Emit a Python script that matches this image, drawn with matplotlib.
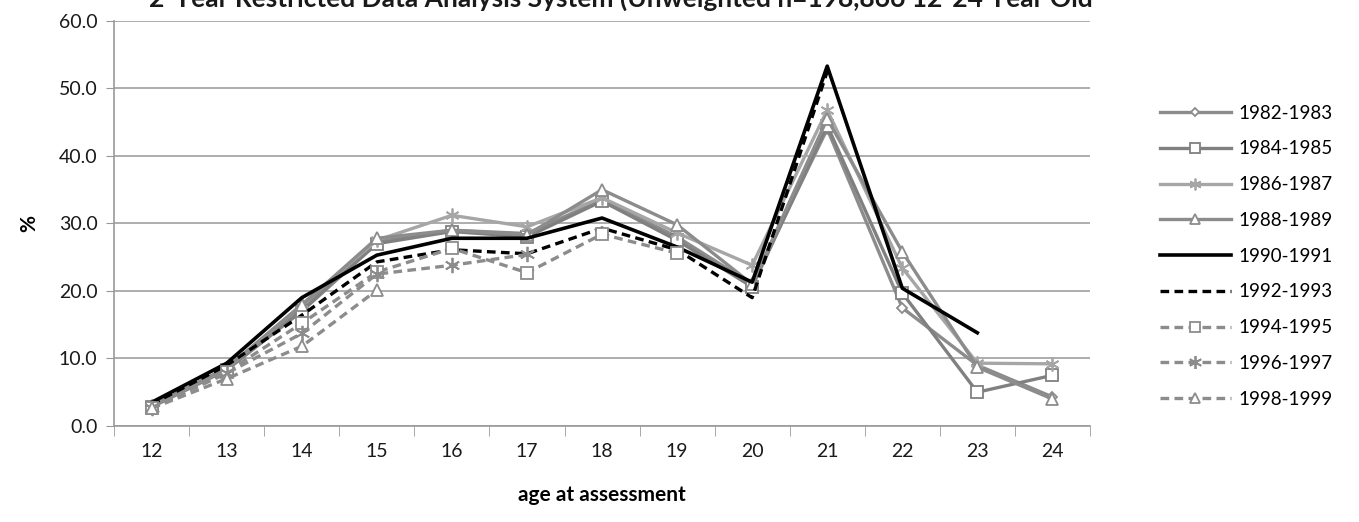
import matplotlib.pyplot as plt

plt.rcParams['font.family'] = ['Lato', 'DejaVu Sans']

ages = [12, 13, 14, 15, 16, 17, 18, 19, 20, 21, 22, 23, 24]

s_1982 = [3.0, 8.5, 17.5, 27.3, 29.0, 28.5, 33.5, 28.0, 21.0, 44.0, 17.5, 9.0, 4.3]
s_1984 = [2.8, 8.3, 17.0, 27.0, 28.8, 28.0, 33.3, 27.5, 20.6, 44.5, 19.7, 5.0, 7.5]
s_1986 = [3.0, 8.5, 18.0, 27.5, 31.2, 29.5, 33.8, 28.6, 23.8, 46.8, 23.4, 9.3, 9.2]
s_1988 = [3.0, 8.6, 17.9, 27.8, 29.0, 28.3, 35.0, 29.8, 21.0, 45.5, 25.8, 8.7, 4.0]
s_1990 = [3.5, 9.3, 19.0, 25.3, 27.8, 27.8, 30.8, 26.5, 21.3, 53.3, 20.4, 13.8]
s_1992 = [3.2, 9.0, 16.4, 24.3, 26.1, 25.5, 29.3, 26.1, 19.0, 52.5]
s_1994 = [2.7, 8.0, 15.2, 22.8, 26.3, 22.7, 28.4, 25.6]
s_1996 = [2.7, 7.8, 13.7, 22.5, 23.8, 25.4]
s_1998 = [2.6, 7.0, 11.8, 20.1]

series = [
    ('1982-1983', s_1982, '#8c8c8c', '-', 'D', 5, 2.4),
    ('1984-1985', s_1984, '#808080', '-', 's', 8, 2.4),
    ('1986-1987', s_1986, '#a6a6a6', '-', (6, 2, 0), 10, 2.4),
    ('1988-1989', s_1988, '#8c8c8c', '-', '^', 8, 2.4),
    ('1990-1991', s_1990, '#000000', '-', None, 0, 2.6),
    ('1992-1993', s_1992, '#000000', '--', None, 0, 2.4),
    ('1994-1995', s_1994, '#8c8c8c', '--', 's', 9, 2.4),
    ('1996-1997', s_1996, '#8c8c8c', '--', (6, 2, 0), 11, 2.4),
    ('1998-1999', s_1998, '#8c8c8c', '--', '^', 9, 2.4),
]

fig = plt.figure(figsize=(13.59, 5.22), dpi=100)
ax = fig.add_axes([0.084, 0.184, 0.718, 0.776])

for label, vals, col, ls, mk, ms, lw in series:
    x = ages[:len(vals)]
    line, = ax.plot(x, vals, color=col, linestyle=ls, linewidth=lw,
                    marker=mk, markersize=ms, markerfacecolor='white',
                    markeredgecolor=col, markeredgewidth=1.3, label=label)
    if ls == '--':
        line.set_dashes((2.6, 1.6))

ax.set_xlim(11.5, 24.5)
ax.set_ylim(0, 60)
ax.set_yticks([0, 10, 20, 30, 40, 50, 60])
ax.set_yticklabels(['%.1f' % v for v in [0, 10, 20, 30, 40, 50, 60]], fontsize=14, color='#1a1a1a')
ax.set_xticks(ages)
ax.set_xticklabels([str(a) for a in ages], fontsize=14, color='#1a1a1a')
ax.set_xticks([a + 0.5 for a in [11] + ages], minor=True)
ax.tick_params(axis='x', which='major', length=0, pad=12)
ax.tick_params(axis='x', which='minor', length=7, color='#999999', direction='out')
ax.tick_params(axis='y', length=6, color='#999999', direction='out', pad=6)

ax.grid(axis='y', color='#a0a0a0', linewidth=1.2)
ax.set_axisbelow(True)
for side in ['top', 'right']:
    ax.spines[side].set_visible(False)
for side in ['left', 'bottom']:
    ax.spines[side].set_color('#999999')
    ax.spines[side].set_linewidth(1.2)

ax.set_ylabel('%', fontsize=15, fontweight='bold', labelpad=14)
ax.set_xlabel('age at assessment', fontsize=15, fontweight='bold', labelpad=18)

# title sits partly above the figure edge, as in the source image
fig.text(0.457, 1 - 7 / 522, '2-Year Restricted Data Analysis System (Unweighted n=198,866 12-24 Year Old',
         ha='center', va='baseline', fontsize=19, fontweight='bold', color='#1a1a1a')

fig.legend(loc='upper left', bbox_to_anchor=(0.841, 0.832), frameon=False,
           fontsize=13.5, handlelength=3.8, labelspacing=1.0, handletextpad=0.4,
           markerscale=0.85)

fig.savefig('out.png', dpi=100)
